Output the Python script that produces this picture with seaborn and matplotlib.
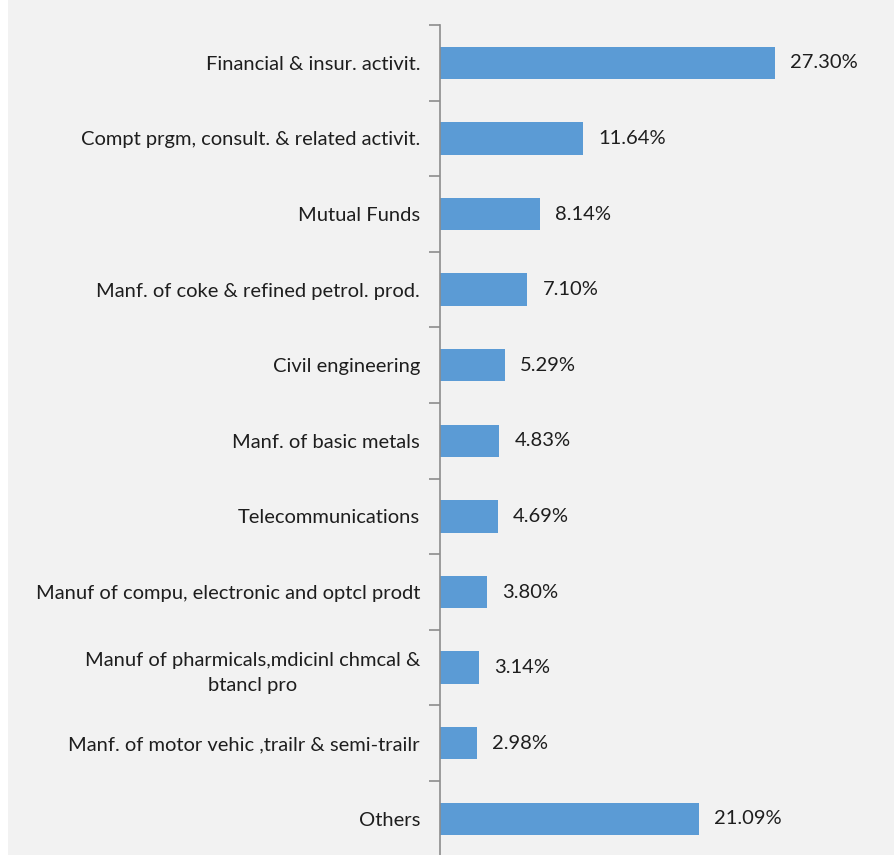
import matplotlib
matplotlib.use("Agg")
import matplotlib.pyplot as plt
import seaborn as sns
import pandas as pd
from matplotlib.patches import Rectangle

categories = [
    "Financial & insur. activit.",
    "Compt prgm, consult. & related activit.",
    "Mutual Funds",
    "Manf. of coke & refined petrol. prod.",
    "Civil engineering",
    "Manf. of basic metals",
    "Telecommunications",
    "Manuf of compu, electronic and optcl prodt",
    "Manuf of pharmicals,mdicinl chmcal &\nbtancl pro",
    "Manf. of motor vehic ,trailr & semi-trailr",
    "Others",
]
shares = [27.30, 11.64, 8.14, 7.10, 5.29, 4.83, 4.69, 3.80, 3.14, 2.98, 21.09]

df = pd.DataFrame({"sector": categories, "share": shares})

sns.set_theme(style="white")
plt.rcParams["font.family"] = ["Lato", "DejaVu Sans"]

W, H, DPI = 894, 855, 100
FS = 14.5
TXT = "#1E1E1E"
fig = plt.figure(figsize=(W / DPI, H / DPI), dpi=DPI, facecolor="white")
fig.patches.append(Rectangle((8 / W, 0), 1 - 8 / W, 1, transform=fig.transFigure,
                             facecolor="#F2F2F2", edgecolor="none", zorder=-10))

ax = fig.add_axes([440 / W, 1 - 856.6 / H, (W - 440) / W, 831.6 / H])
ax.set_facecolor("none")

sns.barplot(data=df, x="share", y="sector", color="#5B9BD5", width=0.43,
            saturation=1, edgecolor="none", ax=ax)

ax.set_xlim(0, 37)
ax.set_ylim(len(categories) - 0.5, -0.5)
ax.set_xlabel("")
ax.set_ylabel("")
ax.set_xticks([])

for s in ["top", "right", "bottom"]:
    ax.spines[s].set_visible(False)
ax.spines["left"].set_color("#8C8C8C")
ax.spines["left"].set_linewidth(1.2)

# category labels without tick marks; boundary marks via minor ticks
ax.tick_params(axis="y", which="major", length=0, pad=14.4, labelsize=FS,
               labelcolor=TXT)
ax.set_yticks([i - 0.5 for i in range(len(categories) + 1)], minor=True)
ax.tick_params(axis="y", which="minor", length=8, width=1.2, color="#8C8C8C",
               direction="out", left=True)
for lbl in ax.get_yticklabels():
    lbl.set_multialignment("center")
    lbl.set_linespacing(1.6)

for i, v in enumerate(shares):
    ax.text(v + 1.25, i, f"{v:.2f}%", va="center", ha="left",
            fontsize=FS, color=TXT)

fig.savefig("out.png", dpi=DPI, facecolor=fig.get_facecolor())
